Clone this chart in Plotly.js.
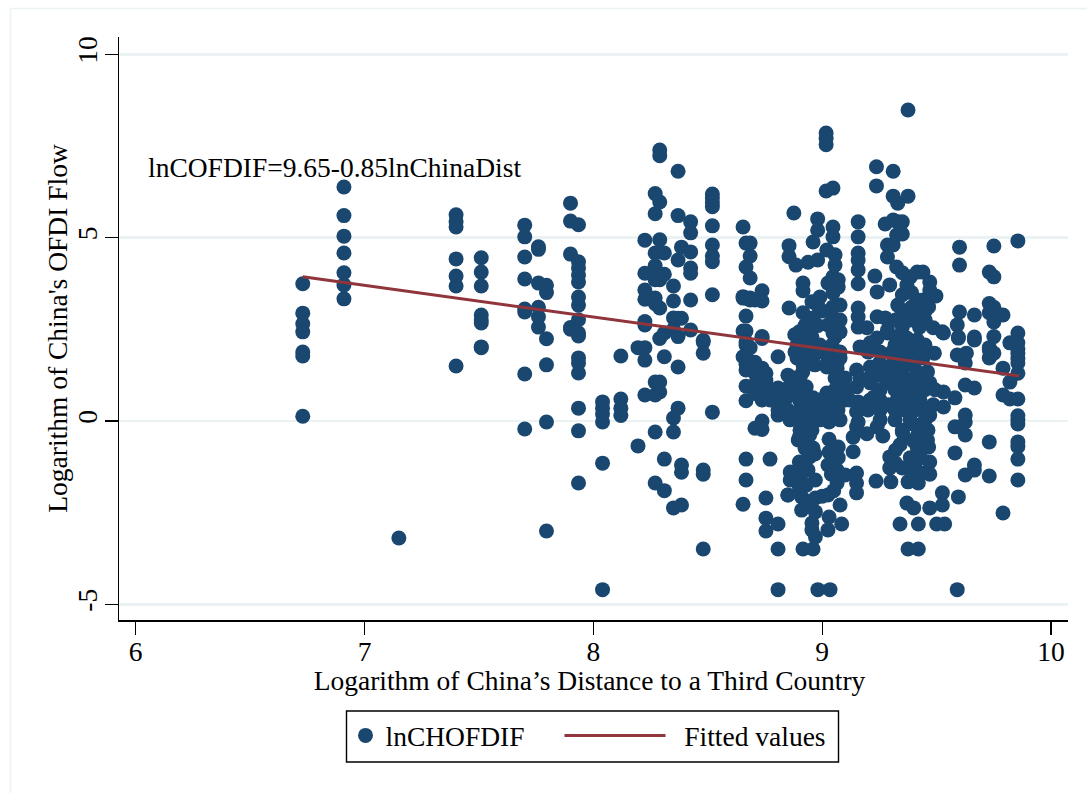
<!DOCTYPE html>
<html><head><meta charset="utf-8">
<script src="https://cdn.plot.ly/plotly-3.0.1.min.js"></script>
<style>html,body{margin:0;padding:0;background:#fff}</style></head>
<body><div id="chart" style="width:1087px;height:793px"></div>
<script>
const colX = [6.73,6.91,7.15,7.40,7.51,7.70,7.76,7.795,7.90,7.935,8.04,8.12,8.195,8.225,8.27,8.29,8.31,8.35,8.37,8.385,8.425,8.48,8.52,
 8.654,8.667,8.685,8.706,8.737,8.754,8.772,8.807];
const colY = [
 [3.74,2.94,2.65,2.43,1.88,1.77,0.13],
 [6.38,5.6,5.04,4.58,4.04,3.71,3.33],
 [-3.19],
 [5.62,5.43,5.29,4.42,3.95,3.68,1.5],
 [4.45,4.06,3.68,2.89,2.75,2.67,2.02,2.0],
 [5.34,5.02,4.47,3.87,3.05,2.97,1.28,-0.22],
 [4.75,4.68,3.76,3.1,2.84,2.56],
 [3.7,3.5,2.24,1.53,-0.03,-3.0],
 [5.94,5.45,4.55,2.55,2.5],
 [5.35,4.34,4.17,3.98,3.79,3.38,3.16,2.76,2.4,2.32,1.72,1.58,1.31,0.35,-0.27,-1.69],
 [0.52,0.35,0.19,-0.03,-1.15,-4.6],
 [1.77,0.6,0.35,0.15],
 [2.0,-0.68],
 [4.93,4.03,3.57,3.32,2.71,2.62,2.0,1.66,0.71],
 [6.2,5.65,4.58,4.23,3.85,3.35,3.2,1.06,0.71,-0.3,-1.69],
 [7.39,7.23,5.97,4.94,4.61,3.85,3.08,2.25,1.06,0.79],
 [4.58,4.0,2.4,1.75,-1.04,-1.9],
 [3.68,3.27,2.81,2.5,0.08,-0.3,-2.37],
 [6.81,5.6,4.39,2.8,2.3,1.47,0.35],
 [4.74,2.8,-1.2,-1.4,-2.29],
 [5.43,5.13,4.61,4.17,4.03,3.3,2.48],
 [2.2,2.15,1.85,-1.34,-1.45,-3.49],
 [6.19,6.08,5.95,5.84,5.32,4.8,4.5,4.34,3.44,0.24],
 [5.29,3.39,3.35,2.45,1.75,-2.27],
 [4.85,4.2,3.35,2.86,2.45,2.07,2.15,1.75,1.55,1.39,0.95,0.55,-1.04,-1.61],
 [4.85,4.5,3.9,3.35,3.3,2.0,1.6,1.44],
 [3.3,1.6,1.3,1.0,0.75,-0.2],
 [3.55,3.27,2.3,2.25,1.44,1.03,0.57,0.0,-0.23],
 [1.3,1.1,0.9,0.7,-2.1,-2.65,-3.0],
 [-1.04,0.76,0.6],
 [1.75,0.9,0.65,0.16,-2.81,-3.49,-4.6]
];
const clusterX = [
 8.855,8.855,8.855,8.85,8.85,8.86,8.85,8.86,8.86,8.85,8.876,8.885,8.88,8.89,8.89,8.895,8.90,8.90,8.90,8.90,8.90,8.90,8.91,8.91,8.915,8.916,8.916,8.916,8.916,8.93,8.938,8.945,8.945,8.945,8.955,8.955,8.955,8.955,8.955,8.955,8.96,8.96,8.96,8.96,8.96,8.97,8.97,8.97,8.97,8.98,8.98,8.98,8.99,
 9.017,9.017,9.017,9.017,9.02,9.02,9.02,9.025,9.025,9.025,9.025,9.025,9.025,9.03,9.03,9.03,9.03,9.03,9.04,9.047,9.047,9.047,9.047,9.047,9.047,9.047,9.047,9.034,9.056,9.056,9.056,9.065,9.065,9.065,9.07,9.07,9.07,9.07,9.078,9.078,9.078,9.078,9.078,9.078,9.085,9.10,9.10,9.10,
 9.135,9.135,9.15,9.15,9.15,9.15,9.15,9.15,9.15,9.157,9.157,9.157,9.157,9.157,9.157,9.157,9.157,9.157,9.157,9.157,9.165,9.195,9.195,9.21,9.21,9.21,9.225,9.235,9.237,9.237,9.23,9.24,9.24,9.24,9.24,9.245,9.25,9.265,
 9.275,9.275,9.275,9.285,9.285,9.285,9.285,9.285,9.29,9.295,9.295,9.295,9.30,9.31,9.31,9.31,9.31,9.31,9.325,9.325,9.325,9.33,9.33,9.33,9.34,9.34,9.35,9.35,9.35,9.35,9.35,9.35,9.35,9.35,9.35,9.35,9.35,9.36,9.37,9.37,9.37,9.375,9.375,9.375,9.375,
 9.385,9.385,9.385,9.385,9.40,9.405,9.405,9.415,9.415,9.415,9.415,9.415,9.415,9.415,9.415,9.42,9.42,9.42,9.42,9.425,9.44,9.44,9.44,9.44,9.44,9.45,9.46,9.46,9.465,9.465,9.47,9.47,9.47,9.47,9.47,9.47,9.47,9.485,9.485,9.49,9.497,
 9.50,9.525,9.525,9.525,9.53,9.53,9.53,9.535,9.58,9.58,9.58,9.59,9.59,9.59,9.595,9.595,9.595,9.60,9.60,9.60,9.625,9.625,9.625,9.625,9.625,9.625,9.63,9.665,9.665,9.665,9.665,9.665,9.665,
 9.73,9.73,9.73,9.73,9.73,9.73,9.73,9.73,9.75,9.75,9.75,9.75,9.75,9.75,9.79,9.79,9.79,9.79,9.82,9.82,9.82,
 9.855,9.855,9.855,9.855,9.855,9.855,9.855,9.855,9.855,9.855,9.855,9.855,9.855,9.855,9.855,9.855
];
const clusterY = [
 4.78,4.48,3.08,1.25,0.71,0.98,-2.02,-1.39,-1.61,-2.02,5.67,4.25,2.35,1.72,0.08,-0.52,2.43,2.29,0.57,-0.44,-1.12,-1.8,-2.07,-2.43,1.34,3.76,3.55,2.95,-3.49,0.93,4.33,2.4,-0.38,-0.98,3.25,2.29,1.66,0.03,-2.78,-2.97,4.88,2.81,0.63,-0.74,-3.49,-1.61,-2.1,-2.48,-3.16,5.51,5.2,4.39,3.38,
 7.85,7.7,7.53,6.27,4.66,1.47,0.76,3.76,2.62,1.72,-1.2,-2.02,-2.97,0.11,-0.03,-0.5,-0.85,-2.62,0.44,5.29,5.02,3.93,3.49,3.11,2.81,2.4,0.76,-4.6,4.53,4.25,2.29,1.44,-1.34,-1.69,3.85,3.65,-0.71,-1.0,3.16,2.75,2.43,1.72,0.85,-2.29,-2.81,1.17,0.57,-1.47,
 -0.44,-0.84,1.39,0.93,0.25,-0.16,-1.42,-1.69,-1.96,5.43,5.02,4.58,4.39,4.12,3.74,3.08,2.84,2.56,0.52,-0.03,2.02,2.54,-0.35,2.13,1.47,1.04,0.65,-1.64,6.93,6.41,3.95,3.52,2.84,2.26,-0.16,1.25,1.58,-0.41,
 5.37,2.81,1.31,4.8,4.47,2.48,2.4,1.04,0.44,3.71,-0.98,-1.28,-1.66,6.81,6.13,5.48,4.8,1.58,5.07,4.2,2.29,5.94,5.43,3.16,-0.65,-2.81,5.43,5.1,4.04,3.44,2.95,2.56,1.31,0.98,-0.25,-0.3,-1.28,0.3,3.71,2.26,-2.24,8.48,6.13,-1.66,-3.49,
 3.93,2.75,1.72,-1.0,-2.37,-0.11,-1.15,4.06,3.3,2.95,2.21,1.34,0.93,0.63,-0.71,-0.33,-1.69,-2.81,-3.49,2.56,3.3,1.72,-0.33,-1.42,4.06,0.03,1.34,-0.52,3.11,-0.71,3.79,3.57,1.04,0.16,-1.12,-1.45,-2.37,2.54,0.44,1.85,3.41,
 -2.81,-1.96,-2.29,2.43,2.4,0.79,0.38,-2.81,0.63,-0.16,-0.87,2.62,1.8,-4.6,2.29,2.26,-2.07,4.74,4.25,2.97,1.58,0.98,0.16,-0.03,-0.38,-1.47,1.85,2.89,2.29,2.21,0.9,-1.2,-1.34,
 4.06,3.2,2.95,2.0,1.94,1.72,-0.57,-1.5,4.77,3.93,3.1,2.7,2.3,1.85,2.89,1.44,0.71,-2.51,2.13,1.06,0.6,
 4.91,2.4,1.95,1.85,1.7,1.58,1.3,0.6,0.14,0.03,-0.08,-0.57,-0.7,-1.04,-1.61,2.13
];
const fillX = [
 8.89,8.938,8.99,9.043,9.318,9.362,9.406,9.449,
 8.881,8.929,8.981,9.034,9.078,9.2,9.253,9.305,9.349,9.392,9.436,
 8.916,8.968,9.025,9.064,9.253,9.305,9.353,9.397,
 8.881,8.903,9.056,9.086,9.165,9.209,9.305,9.362,9.406,9.449,
 8.837,8.881,8.903,9.056,9.10,9.253,9.318,9.362,9.449,9.493,
 8.772,8.837,8.903,8.947,8.99,9.056,9.12,9.209,9.253,9.327,9.384,9.427,
 8.807,8.85,8.903,8.955,9.012,9.069,9.2,9.253,9.318,9.406,9.449,
 8.859,8.925,8.99,9.078,9.253,9.318,9.384,
 8.903,8.955,9.427,9.462,
 8.981,9.047,8.925,8.968,9.05,8.903,8.938,9.05,8.905,8.93,9.04,9.05,8.94,9.0,
 9.32,9.32,9.36,9.40,9.43,9.39,
 9.39,9.44,9.39,9.37,9.45,9.32,9.45,8.925,8.98,9.0,8.98
];
const fillY = [
 2.07,2.07,2.07,2.07,2.07,2.07,2.07,2.07,
 1.88,1.88,1.88,1.88,1.88,1.88,1.88,1.88,1.88,1.88,1.88,
 1.53,1.53,1.53,1.53,1.53,1.53,1.53,1.53,
 1.17,1.17,1.17,1.17,1.17,1.17,1.17,1.17,1.17,1.17,
 0.85,0.85,0.85,0.85,0.85,0.85,0.85,0.85,0.85,0.85,
 0.57,0.57,0.57,0.57,0.57,0.57,0.57,0.57,0.57,0.57,0.57,0.57,
 0.3,0.3,0.3,0.3,0.3,0.3,0.3,0.3,0.3,0.3,0.3,
 0.03,0.03,0.03,0.03,0.03,0.03,0.03,
 -0.25,-0.25,-0.25,-0.25,
 -4.6,6.35,-0.75,-0.9,-0.8,-1.34,-1.34,-1.3,-1.6,-1.75,-1.45,-1.9,-2.2,-2.05,
 -0.8,-1.15,-0.45,-0.55,-1.0,-1.35,
 3.5,2.95,3.1,3.0,3.0,2.75,2.75,2.6,2.6,3.0,3.15
];
const fitX = [6.73,9.86];
const fitY = [3.93,1.23];
const xTicks = [6,7,8,9,10];
const yTicks = [-5,0,5,10];
const yTickText = ['-5','0','5','10'];
const seriesNames = ['lnCHOFDIF','\u00a0\u00a0Fitted values'];
const noteText = 'lnCOFDIF=9.65-0.85lnChinaDist';
const xTitle = 'Logarithm of China\u2019s Distance to a Third Country';
const yTitle = "Logarithm of China's OFDI Flow";

const ptsX = [], ptsY = [];
colX.forEach((x,i)=>colY[i].forEach(y=>{ptsX.push(x);ptsY.push(y);}));
clusterX.forEach((x,i)=>{ptsX.push(x);ptsY.push(clusterY[i]);});
fillX.forEach((x,i)=>{ptsX.push(x);ptsY.push(fillY[i]);});
const serif = 'Liberation Serif, Times New Roman, serif';
const FS = 27.5;
const L=119,R=1068,T=37,B=620;
const px=v=>(v-L)/(R-L), py=v=>(B-v)/(B-T);
Plotly.newPlot('chart',[
 {type:'scatter',mode:'markers',x:ptsX,y:ptsY,name:seriesNames[0],legend:'legend',marker:{color:'#1a476f',size:15,line:{width:0}}},
 {type:'scatter',mode:'lines',x:fitX,y:fitY,name:seriesNames[1],legend:'legend2',line:{color:'#90353b',width:3}}
],{
 width:1087,height:793,paper_bgcolor:'#fff',plot_bgcolor:'#fff',showlegend:true,
 font:{family:serif,size:FS,color:'#000'},
 margin:{l:L,r:1087-R,t:T,b:793-B,autoexpand:false},
 xaxis:{range:[5.927,10.074],tickvals:xTicks,ticks:'outside',ticklen:13,tickwidth:1.3,tickcolor:'#000',showline:true,linecolor:'#000',linewidth:1.5,showgrid:false,zeroline:false,
  tickfont:{size:FS},ticklabelstandoff:-7,title:{text:xTitle,font:{size:FS},standoff:0},automargin:false},
 yaxis:{range:[-5.427,10.47],tickvals:yTicks,ticktext:yTickText,tickangle:-90,ticks:'outside',ticklen:13,tickwidth:1.3,tickcolor:'#000',showline:true,linecolor:'#000',linewidth:1.5,showgrid:true,gridcolor:'#eaf2f3',gridwidth:2.6,zeroline:false,
  tickfont:{size:FS},ticklabelstandoff:-3,title:{text:yTitle,font:{size:FS},standoff:0},automargin:false},
 legend:{orientation:'h',x:px(345.5),xanchor:'left',y:py(735.5),yanchor:'middle',borderwidth:0,bgcolor:'rgba(0,0,0,0)',font:{size:FS},itemwidth:30},
 legend2:{orientation:'h',x:px(559.5),xanchor:'left',y:py(735.5),yanchor:'middle',borderwidth:0,bgcolor:'rgba(0,0,0,0)',font:{size:FS},itemwidth:101},
 shapes:[
  {type:'line',xref:'paper',yref:'paper',x0:px(10.5),x1:px(10.5),y0:py(8.5),y1:py(793),line:{color:'#eaf2f3',width:1.5},layer:'below'},
  {type:'line',xref:'paper',yref:'paper',x0:px(10.5),x1:px(1087),y0:py(8.5),y1:py(8.5),line:{color:'#eaf2f3',width:1.5},layer:'below'},
  {type:'rect',xref:'paper',yref:'paper',x0:px(346.5),x1:px(838.5),y0:py(711),y1:py(762),line:{color:'#000',width:1.4},fillcolor:'rgba(0,0,0,0)'}
 ],
 annotations:[{x:6.043,y:6.9,xref:'x',yref:'y',text:noteText,showarrow:false,xanchor:'left',yanchor:'middle',font:{size:FS,color:'#000'}}]
},{displayModeBar:false,staticPlot:true}).then(gd=>{
 const nudge=(sel,dx,dy)=>{const el=gd.querySelector(sel);if(el)el.setAttribute('transform','translate('+dx+','+dy+') '+(el.getAttribute('transform')||''));};
 nudge('.xtitle',-4,-2);
 nudge('.ytitle',4,0);
});
</script></body></html>
